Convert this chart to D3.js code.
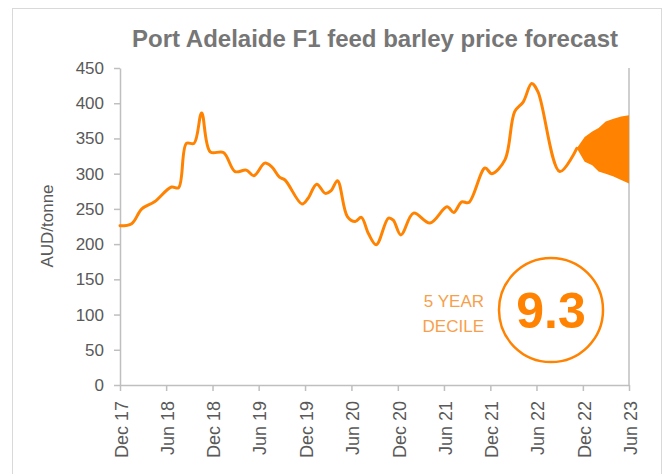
<!DOCTYPE html>
<html>
<head>
<meta charset="utf-8">
<script src="https://cdn.jsdelivr.net/npm/d3@7"></script>
<style>
  html, body { margin: 0; padding: 0; background: #fff; }
  svg { display: block; font-family: "Liberation Sans", Arial, sans-serif; }
</style>
</head>
<body>
<svg id="chart" width="668" height="474"></svg>
<script>
// ---------- DATA ----------
const title = "Port Adelaide F1 feed barley price forecast";
const yAxisTitle = "AUD/tonne";
const yTicks = [0, 50, 100, 150, 200, 250, 300, 350, 400, 450];
const xTickDates = ["2017-12-01","2018-06-01","2018-12-01","2019-06-01","2019-12-01","2020-06-01",
                    "2020-12-01","2021-06-01","2021-12-01","2022-06-01","2022-12-01","2023-06-01"];
const xTickLabels = ["Dec 17","Jun 18","Dec 18","Jun 19","Dec 19","Jun 20",
                     "Dec 20","Jun 21","Dec 21","Jun 22","Dec 22","Jun 23"];

// historical price line
const priceDates = ["2017-12-01","2018-01-16","2018-02-25","2018-04-16","2018-06-22","2018-07-20",
  "2018-08-20","2018-09-19","2018-10-19","2018-11-22","2019-01-13","2019-02-28","2019-04-13",
  "2019-05-13","2019-06-25","2019-07-22","2019-08-22","2019-09-13","2019-11-19","2019-12-13",
  "2020-01-16","2020-02-19","2020-03-13","2020-04-07","2020-05-16","2020-06-16","2020-07-10",
  "2020-08-07","2020-09-07","2020-10-25","2020-11-13","2020-12-13","2021-02-01","2021-04-07",
  "2021-06-13","2021-07-10","2021-08-10","2021-09-07","2021-11-10","2021-12-07","2022-01-28",
  "2022-03-07","2022-04-10","2022-05-13","2022-06-07","2022-09-01","2022-11-07"];
const priceValues = [226,229,250,260,281,280,
  343,343,386,331,330,303,305,
  297,315,310,295,291,257,265,
  285,272,276,290,239,232,238,
  215,199,237,234,213,244,230,
  253,245,260,259,308,300,320,
  388,402,428,416,303,336];

// forecast range (fan)
const fanDates  = ["2022-11-07","2022-12-08","2023-01-07","2023-02-01","2023-03-01","2023-04-01","2023-05-01","2023-06-01"];
const fanUpper  = [336,352,360,365,374,378,381,383];
const fanLower  = [336,317,312,303,300,296,291,286];

const decileLabel = ["5 YEAR", "DECILE"];
const decileValue = "9.3";

// ---------- STYLE ----------
const ORANGE = "#FF8200";
const LIGHT_ORANGE = "#F7A04C";
const AXIS = "#BFBFBF";
const TEXT = "#595959";

const svg = d3.select("#chart");
const parse = d3.timeParse("%Y-%m-%d");

const plot = { left: 120, right: 629, top: 68, bottom: 385 };

const x = d3.scaleTime()
  .domain([parse(xTickDates[0]), parse(xTickDates[xTickDates.length - 1])])
  .range([plot.left, plot.right]);
const y = d3.scaleLinear().domain([0, 450]).range([plot.bottom, plot.top]);

// outer frame
svg.append("rect")
  .attr("x", 12.5).attr("y", 8.5).attr("width", 649).attr("height", 520)
  .attr("fill", "none").attr("stroke", "#D9D9D9").attr("stroke-width", 1);

// title
svg.append("text")
  .attr("x", 375).attr("y", 47)
  .attr("text-anchor", "middle")
  .attr("font-size", 24).attr("font-weight", "bold")
  .attr("fill", "#767676")
  .text(title);

// y axis
const yAxis = d3.axisLeft(y).tickValues(yTicks).tickSize(6).tickPadding(10).tickSizeOuter(0);
const gy = svg.append("g").attr("transform", `translate(${plot.left},0)`).call(yAxis);
gy.select(".domain").attr("stroke", AXIS).attr("stroke-width", 1.5);
gy.selectAll(".tick line").attr("stroke", AXIS).attr("stroke-width", 1.5);
gy.selectAll(".tick text").attr("fill", TEXT).attr("font-size", 17)
  .attr("font-family", "Liberation Sans, Arial, sans-serif");

// right axis line (secondary axis, no ticks)
svg.append("line")
  .attr("x1", plot.right).attr("x2", plot.right)
  .attr("y1", plot.top).attr("y2", plot.bottom)
  .attr("stroke", AXIS).attr("stroke-width", 1.5);

// x axis
const xAxis = d3.axisBottom(x)
  .tickValues(xTickDates.map(parse))
  .tickFormat((d, i) => xTickLabels[i])
  .tickSize(6).tickSizeOuter(0);
const gx = svg.append("g").attr("transform", `translate(0,${plot.bottom})`).call(xAxis);
gx.select(".domain").attr("stroke", AXIS).attr("stroke-width", 1.5);
gx.selectAll(".tick line").attr("stroke", AXIS).attr("stroke-width", 1.5);
gx.selectAll(".tick text")
  .attr("fill", TEXT).attr("font-size", 18)
  .attr("font-family", "Liberation Sans, Arial, sans-serif")
  .attr("text-anchor", "end")
  .attr("transform", "rotate(-90)")
  .attr("x", -16).attr("y", 1).attr("dy", "0.35em");

// y axis title
svg.append("text")
  .attr("transform", "translate(53,226) rotate(-90)")
  .attr("text-anchor", "middle")
  .attr("font-size", 17).attr("fill", TEXT)
  .text(yAxisTitle);

// forecast fan
const fanData = fanDates.map((d, i) => ({ date: parse(d), lo: fanLower[i], hi: fanUpper[i] }));
svg.append("path")
  .datum(fanData)
  .attr("fill", ORANGE)
  .attr("d", d3.area().x(d => x(d.date)).y0(d => y(d.lo)).y1(d => y(d.hi)).curve(d3.curveLinear));

// price line
const lineData = priceDates.map((d, i) => ({ date: parse(d), v: priceValues[i] }));
svg.append("path")
  .datum(lineData)
  .attr("fill", "none").attr("stroke", ORANGE).attr("stroke-width", 3)
  .attr("stroke-linejoin", "round").attr("stroke-linecap", "round")
  .attr("d", d3.line().x(d => x(d.date)).y(d => y(d.v)).curve(d3.curveCatmullRom.alpha(0.5)));

// decile badge
svg.append("circle")
  .attr("cx", 551).attr("cy", 310).attr("r", 52)
  .attr("fill", "#fff").attr("stroke", ORANGE).attr("stroke-width", 2.5);
svg.append("text")
  .attr("x", 551).attr("y", 328)
  .attr("text-anchor", "middle")
  .attr("font-size", 50).attr("font-weight", "bold").attr("fill", ORANGE)
  .text(decileValue);
svg.selectAll("text.dec").data(decileLabel).enter().append("text")
  .attr("class", "dec")
  .attr("x", 484).attr("y", (d, i) => 307 + i * 25)
  .attr("text-anchor", "end")
  .attr("font-size", 17).attr("fill", LIGHT_ORANGE)
  .text(d => d);
</script>
</body>
</html>
